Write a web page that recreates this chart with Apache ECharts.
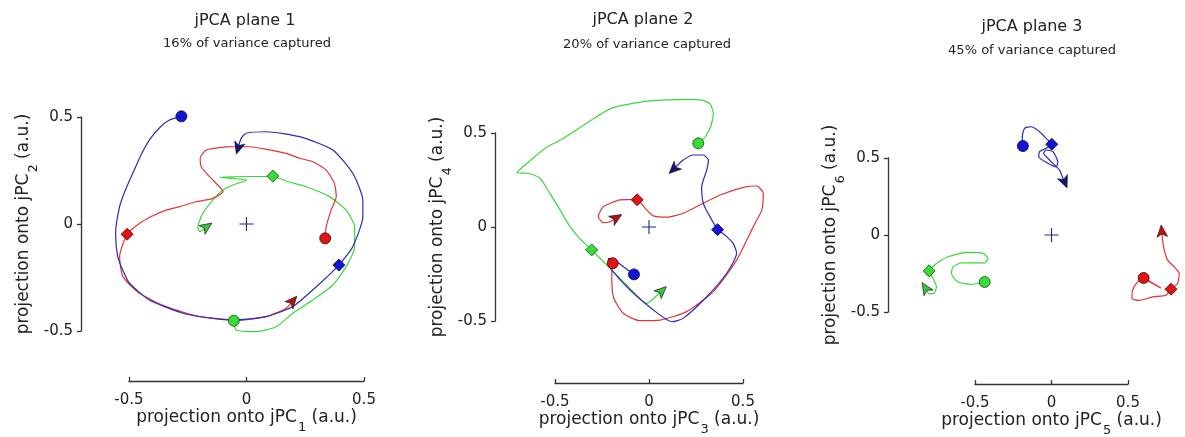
<!DOCTYPE html>
<html><head><meta charset="utf-8">
<script src="https://cdn.jsdelivr.net/npm/echarts@6/dist/echarts.min.js"></script>
<style>html,body{margin:0;padding:0;background:#fff}#c{width:1185px;height:437px}</style>
</head><body><div id="c"></div>
<script>
// ---------- data ----------
const TITLES = ['jPCA plane 1', 'jPCA plane 2', 'jPCA plane 3'];
const SUBTITLES = ['16% of variance captured', '20% of variance captured', '45% of variance captured'];
const X_PCS = ['1', '3', '5'];
const Y_PCS = ['2', '4', '6'];
const AXIS_MIN = -0.5, AXIS_MAX = 0.5, AXIS_STEP = 0.5;
const DATA_MIN = -1, DATA_MAX = 1;
const ORIGIN = [0, 0];

// plane 1
const P1_BLUE = [[-0.277,0.503],[-0.328,0.486],[-0.37,0.45],[-0.413,0.393],[-0.45,0.32],[-0.484,0.237],[-0.515,0.16],[-0.54,0.081],[-0.557,-0.044],[-0.548,-0.153],[-0.525,-0.22],[-0.498,-0.277],[-0.413,-0.355],[-0.271,-0.417],[-0.15,-0.44],[-0.058,-0.449],[0.084,-0.433],[0.197,-0.386],[0.297,-0.293],[0.393,-0.192],[0.452,-0.106],[0.495,0.034],[0.495,0.112],[0.452,0.237],[0.367,0.346],[0.226,0.408],[0.084,0.431],[-0.001,0.424],[-0.023,0.4],[-0.037,0.349]];
const P1_RED = [[0.335,-0.067],[0.339,-0.013],[0.36,0.065],[0.382,0.128],[0.374,0.19],[0.339,0.252],[0.282,0.291],[0.226,0.307],[0.169,0.33],[0.08,0.35],[0.013,0.361],[-0.044,0.361],[-0.086,0.36],[-0.171,0.346],[-0.197,0.307],[-0.193,0.268],[-0.157,0.221],[-0.115,0.174],[-0.1,0.151],[-0.143,0.12],[-0.214,0.104],[-0.285,0.081],[-0.342,0.065],[-0.405,0.035],[-0.455,0.003],[-0.508,-0.048],[-0.54,-0.153],[-0.526,-0.246],[-0.455,-0.324],[-0.342,-0.386],[-0.2,-0.433],[-0.03,-0.449],[0.084,-0.433],[0.169,-0.394],[0.2,-0.355]];
const P1_GREEN = [[-0.054,-0.452],[-0.044,-0.495],[0.041,-0.503],[0.126,-0.48],[0.197,-0.417],[0.282,-0.355],[0.367,-0.285],[0.424,-0.199],[0.46,-0.106],[0.46,-0.013],[0.424,0.065],[0.353,0.128],[0.254,0.174],[0.17,0.2],[0.115,0.222],[0.0,0.222],[-0.115,0.218],[0.0,0.205],[-0.058,0.182],[-0.1,0.159],[-0.143,0.112],[-0.186,0.05],[-0.207,-0.013],[-0.2,-0.036],[-0.165,-0.009]];
const P1_DIAMONDS = {blue: [0.393,-0.192], red: [-0.508,-0.048], green: [0.112,0.224]};

// plane 2
const P2_BLUE = [[-0.08,-0.252],[-0.13,-0.215],[-0.18,-0.18],[-0.216,-0.167],[-0.215,-0.195],[-0.198,-0.229],[-0.101,-0.335],[0.023,-0.441],[0.121,-0.504],[0.182,-0.486],[0.307,-0.371],[0.413,-0.246],[0.466,-0.14],[0.448,-0.087],[0.404,-0.043],[0.365,-0.012],[0.324,0.055],[0.289,0.126],[0.28,0.214],[0.307,0.303],[0.316,0.356],[0.289,0.383],[0.236,0.383],[0.182,0.356],[0.126,0.303]];
const P2_RED = [[-0.193,-0.193],[-0.198,-0.246],[-0.19,-0.371],[-0.137,-0.459],[-0.048,-0.498],[0.059,-0.495],[0.2,-0.45],[0.342,-0.344],[0.466,-0.176],[0.555,0.002],[0.6,0.09],[0.608,0.179],[0.573,0.218],[0.502,0.211],[0.378,0.17],[0.271,0.117],[0.182,0.073],[0.094,0.052],[0.023,0.059],[-0.021,0.1],[-0.065,0.147],[-0.154,0.144],[-0.243,0.108],[-0.27,0.055],[-0.243,0.023],[-0.207,0.028],[-0.168,0.052]];
const P2_GREEN = [[0.262,0.445],[0.3,0.48],[0.33,0.54],[0.342,0.605],[0.325,0.655],[0.28,0.675],[0.209,0.679],[0.1,0.676],[-0.021,0.668],[-0.198,0.632],[-0.32,0.56],[-0.45,0.475],[-0.55,0.42],[-0.63,0.355],[-0.704,0.288],[-0.642,0.286],[-0.58,0.259],[-0.527,0.179],[-0.473,0.09],[-0.42,0.002],[-0.36,-0.07],[-0.305,-0.122],[-0.216,-0.211],[-0.11,-0.318],[-0.012,-0.406],[0.03,-0.375],[0.073,-0.335]];
const P2_DIAMONDS = {blue: [0.365,-0.014], red: [-0.063,0.145], green: [-0.305,-0.122]};

// plane 3
const P3_BLUE = [[-0.187,0.578],[-0.191,0.638],[-0.176,0.693],[-0.132,0.703],[-0.078,0.671],[-0.024,0.617],[0.002,0.589],[-0.035,0.563],[-0.078,0.541],[-0.083,0.508],[-0.024,0.466],[0.031,0.443],[0.041,0.476],[0.009,0.541],[-0.033,0.552],[-0.052,0.532],[-0.013,0.487],[0.052,0.422],[0.072,0.377],[0.089,0.336]];
const P3_RED = [[0.602,-0.279],[0.661,-0.315],[0.716,-0.345],[0.66,-0.312],[0.602,-0.28],[0.563,-0.305],[0.53,-0.359],[0.526,-0.413],[0.574,-0.424],[0.661,-0.402],[0.748,-0.391],[0.781,-0.352],[0.824,-0.315],[0.835,-0.25],[0.802,-0.207],[0.759,-0.163],[0.737,-0.098],[0.726,-0.033],[0.72,0.033]];
const P3_GREEN = [[-0.437,-0.305],[-0.524,-0.32],[-0.611,-0.305],[-0.654,-0.25],[-0.644,-0.207],[-0.589,-0.181],[-0.502,-0.181],[-0.437,-0.181],[-0.415,-0.152],[-0.448,-0.119],[-0.556,-0.113],[-0.676,-0.141],[-0.752,-0.185],[-0.8,-0.233],[-0.774,-0.283],[-0.752,-0.337],[-0.77,-0.381],[-0.8,-0.381],[-0.828,-0.337]];
const P3_DIAMONDS = {blue: [0.002,0.589], red: [0.781,-0.352], green: [-0.8,-0.233]};

// ---------- styling / layout ----------
const F = 'DejaVu Sans';
const TXT = '#222';
const AX = '#333';
const COL = {
  blue:  {line: '#2c2cb8', fill: '#1414d4', edge: '#06064a', arrow: '#14147a'},
  red:   {line: '#e0363a', fill: '#e01414', edge: '#4a0000', arrow: '#b81212'},
  green: {line: '#3ed63e', fill: '#38dc38', edge: '#124d12', arrow: '#3cc23c'}
};
// pixel boxes spanned by the -0.5..0.5 axis ranges
const GRIDS = [
  {left: 129, top: 117, width: 235, height: 214},
  {left: 555, top: 133, width: 188, height: 188},
  {left: 975, top: 158, width: 153, height: 154}
];
const X_OFF = [50, 62, 72];
const Y_OFF = [48, 60, 87];
const Y_GAP = [41, 43, 44];
const TITLE_X = [245, 643, 1032], TITLE_Y = [13, 12, 19];
const SUB_X = [247, 647, 1032], SUB_Y = [37, 38.5, 44.5];
const KEYS = ['green', 'red', 'blue'];
const ARROW_SHIFT = 5;

const panels = [
  {blue: P1_BLUE, red: P1_RED, green: P1_GREEN, dia: P1_DIAMONDS},
  {blue: P2_BLUE, red: P2_RED, green: P2_GREEN, dia: P2_DIAMONDS},
  {blue: P3_BLUE, red: P3_RED, green: P3_GREEN, dia: P3_DIAMONDS}
];

const rich = {
  m: {fontFamily: F, fontSize: 17, color: TXT, lineHeight: 20, verticalAlign: 'top'},
  s: {fontFamily: F, fontSize: 13, color: TXT, lineHeight: 13, verticalAlign: 'top', padding: [12, 0, 0, 1]}
};
function axisName(pc) { return '{m|projection onto jPC}{s|' + pc + '}{m| (a.u.)}'; }

// data grid: same pixel scale as the visible axes, wider value range
function dataGrid(g) {
  const span = (DATA_MAX - DATA_MIN) / (AXIS_MAX - AXIS_MIN);
  const cx = (DATA_MIN - AXIS_MIN) / (AXIS_MAX - AXIS_MIN);
  return {left: g.left + cx * g.width, top: g.top + cx * g.height, width: span * g.width, height: span * g.height,
          containLabel: false, outerBoundsMode: 'none'};
}

const title = [], grid = [], xAxis = [], yAxis = [], series = [];
for (let i = 0; i < 3; i++) {
  title.push({text: TITLES[i], left: TITLE_X[i], top: TITLE_Y[i], textAlign: 'center', padding: 0,
    textStyle: {fontFamily: F, fontSize: 16, fontWeight: 'normal', color: TXT}});
  title.push({text: SUBTITLES[i], left: SUB_X[i], top: SUB_Y[i], textAlign: 'center', padding: 0,
    textStyle: {fontFamily: F, fontSize: 13, fontWeight: 'normal', color: TXT}});
  grid.push(Object.assign({containLabel: false, outerBoundsMode: 'none'}, GRIDS[i]));
  xAxis.push({gridIndex: i, type: 'value', min: AXIS_MIN, max: AXIS_MAX, interval: AXIS_STEP,
    position: 'bottom', offset: X_OFF[i],
    axisLine: {show: true, onZero: false, lineStyle: {color: AX, width: 1.3}},
    axisTick: {show: true, inside: true, length: 4, lineStyle: {color: AX, width: 1.3}},
    axisLabel: {margin: 12, fontFamily: F, fontSize: 15, color: TXT},
    splitLine: {show: false},
    name: axisName(X_PCS[i]), nameLocation: 'middle', nameGap: 28,
    nameTextStyle: {rich}});
  yAxis.push({gridIndex: i, type: 'value', min: AXIS_MIN, max: AXIS_MAX, interval: AXIS_STEP,
    position: 'left', offset: Y_OFF[i],
    axisLine: {show: true, onZero: false, lineStyle: {color: AX, width: 1.3}},
    axisTick: {show: true, inside: false, length: 4, lineStyle: {color: AX, width: 1.3}},
    axisLabel: {margin: 8, fontFamily: F, fontSize: 15, color: TXT},
    splitLine: {show: false},
    name: axisName(Y_PCS[i]), nameLocation: 'middle', nameRotate: 90, nameGap: Y_GAP[i],
    nameTextStyle: {rich}});
}
for (let i = 0; i < 3; i++) {
  const gi = 3 + i;
  grid.push(dataGrid(GRIDS[i]));
  xAxis.push({gridIndex: gi, type: 'value', min: DATA_MIN, max: DATA_MAX, show: false, splitLine: {show: false}});
  yAxis.push({gridIndex: gi, type: 'value', min: DATA_MIN, max: DATA_MAX, show: false, splitLine: {show: false}});
  const p = panels[i];
  KEYS.forEach(function (k) {
    series.push({type: 'line', xAxisIndex: gi, yAxisIndex: gi, data: p[k], showSymbol: false, clip: false,
      smooth: 0.2, silent: true, lineStyle: {color: COL[k].line, width: 1.2}, z: 2});
  });
  KEYS.forEach(function (k) {
    series.push({type: 'scatter', xAxisIndex: gi, yAxisIndex: gi, clip: false, silent: true,
      data: [{value: p[k][0], symbol: 'circle', symbolSize: 11},
             {value: p.dia[k], symbol: 'diamond', symbolSize: 12}],
      itemStyle: {color: COL[k].fill, borderColor: COL[k].edge, borderWidth: 0.8, opacity: 1}, z: 5});
  });
  series.push({type: 'scatter', xAxisIndex: gi, yAxisIndex: gi, silent: true, data: [ORIGIN],
    symbol: 'path://M0 7L14 7M7 0L7 14', symbolSize: 14,
    itemStyle: {color: 'none', borderColor: '#22228e', borderWidth: 1.1, opacity: 1}, z: 3});
}

const chart = echarts.init(document.getElementById('c'), null, {renderer: 'canvas'});
chart.setOption({animation: false, backgroundColor: '#fff', title, grid, xAxis, yAxis, series});

// arrowheads at the trajectory ends, oriented with the axes' own pixel mapping
const arrows = [];
for (let i = 0; i < 3; i++) {
  const gi = 3 + i;
  KEYS.forEach(function (k) {
    const pts = panels[i][k], n = pts.length;
    const a = chart.convertToPixel({gridIndex: gi}, pts[n - 2]);
    const b = chart.convertToPixel({gridIndex: gi}, pts[n - 1]);
    const dx = b[0] - a[0], dy = b[1] - a[1], len = Math.hypot(dx, dy) || 1;
    const rot = Math.atan2(-dx, -dy) * 180 / Math.PI;
    arrows.push({type: 'scatter', xAxisIndex: gi, yAxisIndex: gi, clip: false, silent: true,
      data: [pts[n - 1]], symbol: 'arrow', symbolSize: [8, 12], symbolRotate: rot,
      symbolOffset: [dx / len * ARROW_SHIFT, dy / len * ARROW_SHIFT],
      itemStyle: {color: COL[k].arrow, borderColor: '#111', borderWidth: 0.6, opacity: 1}, z: 6});
  });
}
chart.setOption({series: series.concat(arrows)});
</script>
</body></html>
